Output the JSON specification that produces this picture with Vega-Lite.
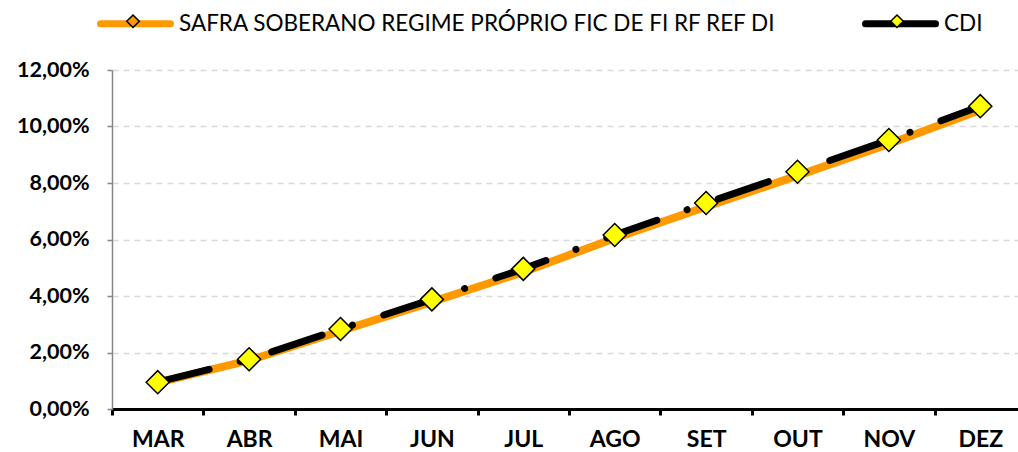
{
  "$schema": "https://vega.github.io/schema/vega-lite/v6.json",
  "autosize": {"type": "none"},
  "padding": {"left": 112, "top": 70, "right": 0, "bottom": 43},
  "width": 906,
  "height": 339,
  "background": "white",
  "config": {"view": {"stroke": null}},
  "data": {"values": [
    {"mes": "MAR", "serie": "SAFRA SOBERANO REGIME PRÓPRIO FIC DE FI RF REF DI", "valor": 0.0093},
    {"mes": "ABR", "serie": "SAFRA SOBERANO REGIME PRÓPRIO FIC DE FI RF REF DI", "valor": 0.0172},
    {"mes": "MAI", "serie": "SAFRA SOBERANO REGIME PRÓPRIO FIC DE FI RF REF DI", "valor": 0.0276},
    {"mes": "JUN", "serie": "SAFRA SOBERANO REGIME PRÓPRIO FIC DE FI RF REF DI", "valor": 0.0379},
    {"mes": "JUL", "serie": "SAFRA SOBERANO REGIME PRÓPRIO FIC DE FI RF REF DI", "valor": 0.0485},
    {"mes": "AGO", "serie": "SAFRA SOBERANO REGIME PRÓPRIO FIC DE FI RF REF DI", "valor": 0.0604},
    {"mes": "SET", "serie": "SAFRA SOBERANO REGIME PRÓPRIO FIC DE FI RF REF DI", "valor": 0.0716},
    {"mes": "OUT", "serie": "SAFRA SOBERANO REGIME PRÓPRIO FIC DE FI RF REF DI", "valor": 0.0826},
    {"mes": "NOV", "serie": "SAFRA SOBERANO REGIME PRÓPRIO FIC DE FI RF REF DI", "valor": 0.0938},
    {"mes": "DEZ", "serie": "SAFRA SOBERANO REGIME PRÓPRIO FIC DE FI RF REF DI", "valor": 0.1058},
    {"mes": "MAR", "serie": "CDI", "valor": 0.0095},
    {"mes": "ABR", "serie": "CDI", "valor": 0.0176},
    {"mes": "MAI", "serie": "CDI", "valor": 0.0283},
    {"mes": "JUN", "serie": "CDI", "valor": 0.0388},
    {"mes": "JUL", "serie": "CDI", "valor": 0.0496},
    {"mes": "AGO", "serie": "CDI", "valor": 0.0616},
    {"mes": "SET", "serie": "CDI", "valor": 0.0729},
    {"mes": "OUT", "serie": "CDI", "valor": 0.0840},
    {"mes": "NOV", "serie": "CDI", "valor": 0.0952},
    {"mes": "DEZ", "serie": "CDI", "valor": 0.1072}
  ]},
  "encoding": {
    "x": {
      "field": "mes", "type": "nominal",
      "sort": ["MAR", "ABR", "MAI", "JUN", "JUL", "AGO", "SET", "OUT", "NOV", "DEZ"],
      "scale": {"type": "band", "range": [0, 914], "paddingInner": 0, "paddingOuter": 0},
      "axis": {
        "title": null, "labelAngle": 0, "tickBand": "extent",
        "domainColor": "#000000", "domainWidth": 3,
        "tickColor": "#000000", "tickWidth": 3, "tickSize": 6,
        "labelFont": "Lato", "labelFontWeight": "bold", "labelFontSize": 23, "labelColor": "#000000",
        "labelPadding": 13, "grid": false
      }
    },
    "y": {
      "field": "valor", "type": "quantitative",
      "scale": {"domain": [0, 0.12], "nice": false, "zero": true},
      "axis": {
        "title": null,
        "values": [0, 0.02, 0.04, 0.06, 0.08, 0.1, 0.12],
        "labelExpr": "replace(format(datum.value, '.2%'), '.', ',')",
        "labelFont": "Lato", "labelFontWeight": "bold", "labelFontSize": 21.5, "labelColor": "#000000",
        "labelPadding": 18,
        "domainColor": "#868686", "domainWidth": 1.5,
        "tickColor": "#868686", "tickWidth": 1.5, "tickSize": 5,
        "grid": true, "gridColor": "#d9d9d9", "gridDash": [6, 5], "gridWidth": 1.5
      }
    }
  },
  "layer": [
    {
      "transform": [{"filter": "datum.serie !== 'CDI'"}],
      "mark": {"type": "line", "strokeWidth": 8, "strokeCap": "round", "strokeJoin": "round"},
      "encoding": {
        "color": {
          "field": "serie", "type": "nominal",
          "scale": {"domain": ["SAFRA SOBERANO REGIME PRÓPRIO FIC DE FI RF REF DI", "CDI"], "range": ["#FF9900", "#000000"]},
          "legend": {
            "title": null, "orient": "none", "legendX": -15, "legendY": -85,
            "direction": "horizontal", "padding": 0,
            "symbolType": "stroke", "symbolSize": 4900, "symbolStrokeWidth": 7,
            "labelFont": "Lato", "labelFontSize": 22.5, "labelColor": "#000000", "labelOffset": 5,
            "labelLimit": 1000, "columnPadding": 74,
            "encode": {"symbols": {"update": {"strokeCap": {"value": "round"}, "strokeWidth": {"value": 7}, "size": {"value": 4900}}}}
          }
        }
      }
    },
    {
      "transform": [{"filter": "datum.serie === 'CDI'"}],
      "mark": {"type": "line", "stroke": "#000000", "strokeWidth": 7, "strokeCap": "round", "strokeDash": [53, 32, 0.01, 33]},
      "encoding": {}
    },
    {
      "transform": [{"filter": "datum.serie === 'CDI'"}],
      "mark": {"type": "point", "shape": "diamond", "filled": true, "size": 529, "stroke": "#000000", "strokeWidth": 1.5, "opacity": 1},
      "encoding": {
        "fill": {
          "field": "serie", "type": "nominal",
          "scale": {"domain": ["SAFRA SOBERANO REGIME PRÓPRIO FIC DE FI RF REF DI", "CDI", "-"], "range": ["#FF9900", "#FFFF00", "#FFFFFF"]},
          "legend": {
            "title": null, "orient": "none", "legendX": -15, "legendY": -85,
            "direction": "horizontal", "padding": 0,
            "values": ["SAFRA SOBERANO REGIME PRÓPRIO FIC DE FI RF REF DI", "CDI"],
            "symbolType": "M-1,0M0,-0.18L0.18,0L0,0.18L-0.18,0ZM1,0",
            "symbolSize": 4900, "symbolStrokeWidth": 1.5, "symbolStrokeColor": "#000000",
            "labelExpr": "''", "labelFont": "Lato", "labelFontSize": 22.5, "labelOffset": 5,
            "columnPadding": 685,
            "encode": {"symbols": {"update": {"size": {"value": 4900}, "stroke": {"value": "#000000"}, "strokeWidth": {"value": 1.5}}}}
          }
        }
      }
    }
  ]
}
